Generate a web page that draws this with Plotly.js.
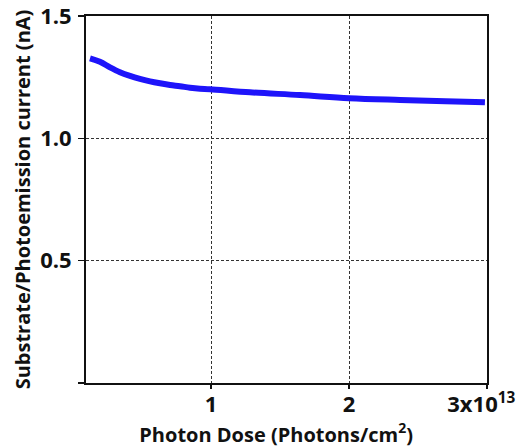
<!DOCTYPE html>
<html>
<head>
<script src="https://cdn.plot.ly/plotly-3.0.1.min.js"></script>
<style>html,body{margin:0;padding:0;background:#fff;}#chart{width:517px;height:448px;}</style>
</head>
<body>
<div id="chart"></div>
<script>
const doseX = [0.123, 0.195, 0.268, 0.34, 0.413, 0.485, 0.558, 0.63, 0.703, 0.775, 0.848, 0.92, 0.993, 1.282, 1.645, 2.0, 2.37, 2.7, 2.985];
const currentY = [1.327, 1.313, 1.29, 1.27, 1.255, 1.243, 1.233, 1.225, 1.218, 1.213, 1.207, 1.203, 1.201, 1.188, 1.177, 1.164, 1.157, 1.152, 1.147];
const xTickVals = [1, 2, 3];
const xTickText = ['1', '2', '3x10<sup>13</sup>&nbsp;&nbsp;'];
const yTickVals = [0, 0.5, 1.0, 1.5];
const yTickText = [' ', '0.5', '1.0', '1.5'];

const fontFam = '"Open Sans", "DejaVu Sans", sans-serif';
Plotly.newPlot('chart', [{
  x: doseX, y: currentY, mode: 'lines', type: 'scatter',
  line: {color: 'rgb(30,20,250)', width: 6, shape: 'spline'},
  hoverinfo: 'skip'
}], {
  width: 517, height: 448,
  margin: {l: 86, r: 30, t: 16, b: 65},
  paper_bgcolor: '#fff', plot_bgcolor: '#fff',
  showlegend: false,
  font: {family: fontFam, color: '#111', size: 20, weight: 'bold'},
  xaxis: {
    range: [0.094, 3], tickvals: xTickVals, ticktext: xTickText,
    ticks: 'outside', ticklen: 4, tickwidth: 1.5, tickcolor: '#111',
    ticklabeloverflow: 'allow', ticklabelstandoff: -3,
    showline: true, linecolor: '#111', linewidth: 2, mirror: true,
    showgrid: true, gridcolor: '#333', gridwidth: 1, griddash: '3px,2px',
    zeroline: false,
    tickfont: {family: fontFam, size: 22, color: '#111', weight: 'bold'},
    title: {text: 'Photon Dose (Photons/cm<sup>2</sup>)&nbsp;&nbsp;&nbsp;&nbsp;', font: {family: fontFam, size: 20, color: '#111', weight: 'bold'}, standoff: 8}
  },
  yaxis: {
    range: [0, 1.5], tickvals: yTickVals, ticktext: yTickText,
    ticks: 'outside', ticklen: 6, tickwidth: 1.5, tickcolor: '#111',
    ticklabelstandoff: 2, ticklabeloverflow: 'allow',
    showline: true, linecolor: '#111', linewidth: 2, mirror: true,
    showgrid: true, gridcolor: '#333', gridwidth: 1, griddash: '3px,2px',
    zeroline: false,
    tickfont: {family: fontFam, size: 22, color: '#111', weight: 'bold'},
    title: {text: 'Substrate/Photoemission current (nA)', font: {family: fontFam, size: 20, color: '#111', weight: 'bold'}, standoff: 4}
  }
}, {staticPlot: true});
</script>
</body>
</html>
